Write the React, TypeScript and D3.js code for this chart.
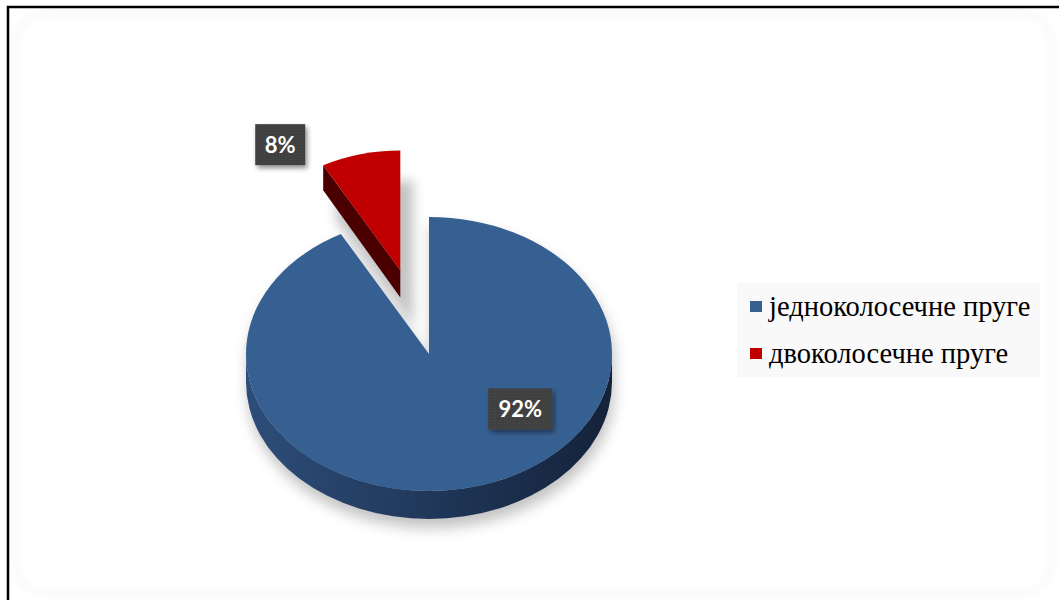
import React from 'react';
import * as d3 from 'd3';

const categories = ['једноколосечне пруге', 'двоколосечне пруге'];
const values = [92, 8];
const valueLabels = ['92%', '8%'];
const topColors = ['#376092', '#C00000'];
const sideColors = [['#2d4d79', '#14223a'], ['#4a0000', '#4a0000']];

const W = 1059;
const H = 600;
const CX = 429;
const CY = 354;
const RX = 183;
const RY = 137;
const DEPTH = 28;
const EXPLODE = 0.63;
const RED_SCALE = 0.875;
const RED_DEPTH_APEX = 27;
const RED_DEPTH_RIM = 25;

type Pt = [number, number];

function pt(c: Pt, rx: number, ry: number, a: number): Pt {
  return [c[0] + rx * Math.sin(a), c[1] - ry * Math.cos(a)];
}

function wedgeTop(c: Pt, rx: number, ry: number, a0: number, a1: number): string {
  const p0 = pt(c, rx, ry, a0);
  const p1 = pt(c, rx, ry, a1);
  const large = a1 - a0 > Math.PI ? 1 : 0;
  return `M${c[0]},${c[1]}L${p0[0]},${p0[1]}A${rx},${ry} 0 ${large} 1 ${p1[0]},${p1[1]}Z`;
}

function outerSide(c: Pt, rx: number, ry: number, a0: number, a1: number, depth: number): string | null {
  const s = Math.max(a0, Math.PI / 2);
  const e = Math.min(a1, (3 * Math.PI) / 2);
  if (e <= s) return null;
  const p0 = pt(c, rx, ry, s);
  const p1 = pt(c, rx, ry, e);
  return `M${p0[0]},${p0[1]}A${rx},${ry} 0 0 1 ${p1[0]},${p1[1]}L${p1[0]},${p1[1] + depth}A${rx},${ry} 0 0 0 ${p0[0]},${p0[1] + depth}Z`;
}

export default function App() {
  const arcs = d3.pie<number>().sort(null).startAngle(0).endAngle(2 * Math.PI)(values);
  const blue = arcs[0];
  const red = arcs[1];
  const center: Pt = [CX, CY];

  const mid = (red.startAngle + red.endAngle) / 2;
  const rc: Pt = pt(center, RX * EXPLODE, RY * EXPLODE, mid);
  const rrx = RX * RED_SCALE;
  const rry = RY * RED_SCALE;

  const blueTop = wedgeTop(center, RX, RY, blue.startAngle, blue.endAngle);
  const blueSide = outerSide(center, RX, RY, blue.startAngle, blue.endAngle, DEPTH);

  const redTop = wedgeTop(rc, rrx, rry, red.startAngle, red.endAngle);
  const rp0 = pt(rc, rrx, rry, red.startAngle);
  const redSide = `M${rc[0]},${rc[1]}L${rp0[0]},${rp0[1]}L${rp0[0]},${rp0[1] + RED_DEPTH_RIM}L${rc[0]},${rc[1] + RED_DEPTH_APEX}Z`;

  // label anchors (layout)
  const lab92 = pt(center, RX * 0.64, RY * 0.64, (128.8 * Math.PI) / 180);
  const lab8 = pt(rc, rrx * 1.27, rry * 1.3, (-36.2 * Math.PI) / 180);
  const labelPos = [lab92, lab8];
  const labelW = [64, 50];
  const labelH = 41;

  const legendX = 750;
  const legendY = [301, 348];

  return (
    <svg width={W} height={H} style={{ position: 'absolute', left: 0, top: 0, background: '#fff' }}>
      <defs>
        <filter id="blurBig" x="-30%" y="-30%" width="160%" height="160%">
          <feGaussianBlur stdDeviation="7" />
        </filter>
        <filter id="blurMid" x="-50%" y="-50%" width="200%" height="200%">
          <feGaussianBlur stdDeviation="6" />
        </filter>
        <filter id="boxShadow" x="-30%" y="-30%" width="160%" height="160%">
          <feDropShadow dx="2" dy="3" stdDeviation="2.5" floodColor="#000" floodOpacity="0.45" />
        </filter>
        <filter id="frameBlur" x="-5%" y="-5%" width="110%" height="110%">
          <feGaussianBlur stdDeviation="4" />
        </filter>
        <linearGradient id="blueSideGrad" x1="0" x2="1" y1="0" y2="0">
          <stop offset="0%" stopColor={sideColors[0][0]} />
          <stop offset="100%" stopColor={sideColors[0][1]} />
        </linearGradient>
        <pattern id="dots" width="3" height="3" patternUnits="userSpaceOnUse">
          <rect width="3" height="3" fill="#404040" />
          <rect width="1" height="1" fill="#4a4a4a" />
        </pattern>
      </defs>

      {/* outer frame */}
      <rect x={16} y={13} width={1036} height={580} rx={30} fill="none" stroke="#f2f2f2" strokeWidth={3} filter="url(#frameBlur)" />
      <rect x={8} y={7} width={1070} height={620} fill="none" stroke="#000" strokeWidth={2.5} />

      {/* shadows */}
      <g transform="translate(2,9)" filter="url(#blurBig)" opacity={0.45}>
        <path d={blueTop} fill="#777" />
        {blueSide && <path d={blueSide} fill="#777" />}
      </g>
      <g transform="translate(13,30)" filter="url(#blurMid)" opacity={0.5}>
        <path d={redTop} fill="#888" />
        <path d={redSide} fill="#888" />
      </g>

      {/* blue slice */}
      {blueSide && <path d={blueSide} fill="url(#blueSideGrad)" />}
      <path d={blueTop} fill={topColors[0]} />

      {/* red slice */}
      <path d={redSide} fill={sideColors[1][0]} />
      <path d={redTop} fill={topColors[1]} />

      {/* data labels */}
      {valueLabels.map((t, i) => (
        <g key={t}>
          <rect
            x={labelPos[i][0] - labelW[i] / 2}
            y={labelPos[i][1] - labelH / 2}
            width={labelW[i]}
            height={labelH}
            fill="url(#dots)"
            filter="url(#boxShadow)"
          />
          <text
            x={labelPos[i][0]}
            y={labelPos[i][1]}
            textAnchor="middle"
            dominantBaseline="central"
            fontFamily="Lato, 'Open Sans', sans-serif"
            fontWeight={700}
            fontSize={22}
            fill="#fff"
          >
            {t}
          </text>
        </g>
      ))}

      {/* legend */}
      <rect x={737} y={283} width={303} height={94} fill="#f9f9f9" />
      {categories.map((c, i) => (
        <g key={c}>
          <rect x={legendX} y={legendY[i]} width={12} height={11} fill={topColors[i]} />
          <text
            x={769}
            y={legendY[i] + 15}
            fontFamily="'Liberation Serif', 'Times New Roman', serif"
            fontSize={28.5}
            fill="#000"
          >
            {c}
          </text>
        </g>
      ))}
    </svg>
  );
}
